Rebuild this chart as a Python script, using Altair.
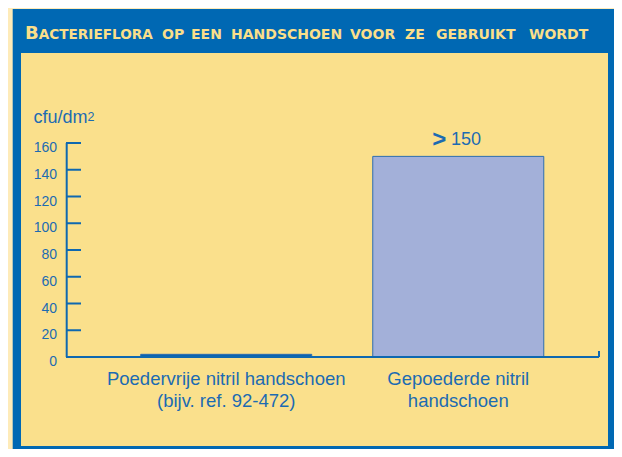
import altair as alt
import pandas as pd

# ---- data ----
categories = ["Poedervrije nitril handschoen\n(bijv. ref. 92-472)", "Gepoederde nitril\nhandschoen"]
values = [2, 150]
tick_values = [0, 20, 40, 60, 80, 100, 120, 140, 160]
title_first = "B"
title_words = ["ACTERIEFLORA", "OP", "EEN", "HANDSCHOEN", "VOOR", "ZE", "GEBRUIKT", "WORDT"]
y_title = "cfu/dm"
y_title_sup = "2"
top_label_sign = ">"
top_label_value = "150"

# ---- style ----
CREAM = "#FEEBB9"
FRAME = "#0068B3"
PANEL = "#FAE08C"
TEXT = "#1C6BB2"
AXIS = "#0E68B0"
BAR_DARK = "#0B64AE"
BAR_LIGHT = "#A3B0D9"
TITLE_C = "#FADF8A"

W, H = 533, 214
OX, OY = 66, 143  # page position of plot origin


def px(x):
    return x - OX


def py(y):
    return y - OY


one = pd.DataFrame({"lo": [0], "hi": [160]})
xscale = alt.Scale(domain=categories, paddingInner=0.263, paddingOuter=0.28, align=0.575)
yscale = alt.Scale(domain=[0, 160], nice=False, zero=True)

df = pd.DataFrame({"cat": categories, "val": values})
ticks = pd.DataFrame({"tick": tick_values})

layers = []

# frame
layers.append(alt.Chart(one).mark_rect(color=FRAME).encode(
    x=alt.value(px(12.7)), x2=alt.value(px(614)), y=alt.value(py(9)), y2=alt.value(py(449))))
layers.append(alt.Chart(one).mark_rect(color=PANEL).encode(
    x=alt.value(px(21)), x2=alt.value(px(608)), y=alt.value(py(53)), y2=alt.value(py(446))))

# title (small caps imitation)
layers.append(alt.Chart(one).mark_text(
    text=title_first, font="DejaVu Sans", fontWeight="bold", fontSize=18, color=TITLE_C,
    align="left", baseline="alphabetic").encode(x=alt.value(px(25)), y=alt.value(py(38.5))))
word_x = [38.8, 162, 191, 231, 350, 405, 436, 529]
word_size = [13.6, 14, 14, 14, 14, 14, 14, 14]
for w, wx, ws in zip(title_words, word_x, word_size):
    layers.append(alt.Chart(one).mark_text(
        text=w, font="DejaVu Sans", fontWeight="bold", fontSize=ws, color=TITLE_C,
        align="left", baseline="alphabetic").encode(x=alt.value(px(wx)), y=alt.value(py(38.5))))

# y title
layers.append(alt.Chart(one).mark_text(
    text=y_title, font="Liberation Sans", fontSize=18, color=TEXT,
    align="left", baseline="alphabetic").encode(x=alt.value(px(33.5)), y=alt.value(py(123.3))))
layers.append(alt.Chart(one).mark_text(
    text=y_title_sup, font="Liberation Sans", fontSize=12.5, color=TEXT,
    align="left", baseline="alphabetic").encode(x=alt.value(px(87.5)), y=alt.value(py(120.5))))

# y axis line
layers.append(alt.Chart(one).mark_rule(color=AXIS, strokeWidth=2).encode(
    x=alt.value(0.7), y=alt.Y("lo:Q", scale=yscale, axis=None), y2="hi:Q"))
# ticks
layers.append(alt.Chart(ticks).mark_rule(color=AXIS, strokeWidth=2).encode(
    y=alt.Y("tick:Q", scale=yscale, axis=None), x=alt.value(0), x2=alt.value(15)))
layers.append(alt.Chart(ticks).mark_text(
    font="Liberation Sans", fontSize=14, color=TEXT, align="right", baseline="alphabetic", dy=9).encode(
    y=alt.Y("tick:Q", scale=yscale, axis=None), x=alt.value(px(57)), text=alt.Text("tick:Q")))

# bars
layers.append(alt.Chart(df).mark_bar(stroke="#2C6DB1", strokeWidth=1).encode(
    x=alt.X("cat:N", scale=xscale, axis=None, sort=categories),
    y=alt.Y("val:Q", scale=yscale, axis=None),
    color=alt.Color("cat:N", scale=alt.Scale(domain=categories, range=[BAR_DARK, BAR_LIGHT]), legend=None)))

# x axis line and end tick
layers.append(alt.Chart(one).mark_rule(color=AXIS, strokeWidth=2).encode(
    x=alt.value(0), x2=alt.value(W), y=alt.Y("lo:Q", scale=yscale, axis=None)))
layers.append(alt.Chart(one).mark_rule(color=AXIS, strokeWidth=2).encode(
    x=alt.value(W), y=alt.Y("lo:Q", scale=yscale, axis=None), y2=alt.value(H - 6)))

# x labels
layers.append(alt.Chart(df).mark_text(
    font="Liberation Sans", fontSize=18.5, color=TEXT, align="center", baseline="alphabetic",
    lineBreak="\n", lineHeight=21.7).encode(
    x=alt.X("cat:N", scale=xscale, axis=None, sort=categories),
    y=alt.value(py(385)), text="cat:N"))

# "> 150" label above second bar
top = df[df["val"] == max(values)]
layers.append(alt.Chart(top).mark_text(
    text=top_label_sign, font="Liberation Sans", fontSize=24, fontWeight="bold", color=TEXT, align="right",
    baseline="alphabetic", dx=-12, dy=-9.4).encode(
    x=alt.X("cat:N", scale=xscale, axis=None, sort=categories),
    y=alt.Y("val:Q", scale=yscale, axis=None)))
layers.append(alt.Chart(top).mark_text(
    text=top_label_value, font="Liberation Sans", fontSize=18, color=TEXT, align="left",
    baseline="alphabetic", dx=-7.3, dy=-11.4).encode(
    x=alt.X("cat:N", scale=xscale, axis=None, sort=categories),
    y=alt.Y("val:Q", scale=yscale, axis=None)))

chart = alt.layer(*layers).properties(
    width=W, height=H,
    padding={"left": 58, "top": 135, "right": 15, "bottom": 92},
    autosize=alt.AutoSizeParams(type="none"),
    background=CREAM,
).configure_view(stroke=None)

chart.save("out.html", embed_options={"renderer": "svg", "actions": False})
